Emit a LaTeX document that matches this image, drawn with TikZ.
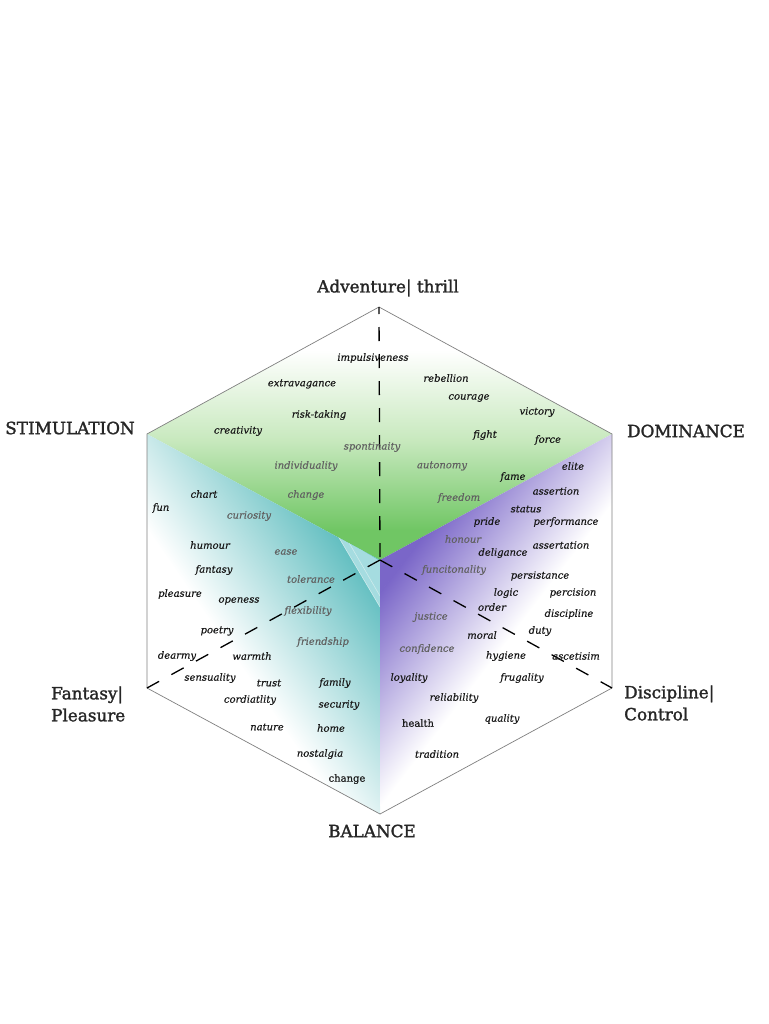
\documentclass[tikz,border=0pt]{standalone}
\usepackage{fontspec}
\setmainfont{DejaVu Serif}
\newfontfamily\labfont[FakeBold=1.6]{DejaVu Serif}
\newfontfamily\wordfont[FakeBold=0.4]{DejaVu Serif}
\begin{document}
\begin{tikzpicture}[x=1pt,y=-1pt,
  edge/.style={draw=black!50, line width=0.7pt},
  axisline/.style={draw=black, line width=1.3pt, dash pattern=on 14pt off 14pt},
  lab/.style={font=\labfont\fontsize{16.8}{22}\selectfont, text=black!85, inner sep=0pt},
  w/.style={font=\wordfont\itshape\fontsize{10}{10}\selectfont, text=black!90, inner sep=0pt},
  wg/.style={w, text=black!62},
  wu/.style={w, font=\wordfont\fontsize{10}{10}\selectfont}]
\definecolor{gr}{RGB}{112,198,100}
\definecolor{grm}{RGB}{200,233,190}
\definecolor{tl}{RGB}{92,188,190}
\definecolor{tll}{RGB}{165,220,224}
\definecolor{pp}{RGB}{122,102,200}
\useasboundingbox (0,0) rectangle (768,1024);
\fill[white] (0,0) rectangle (768,1024);

\coordinate (T) at (379,307);
\coordinate (UL) at (147,434);
\coordinate (UR) at (612,434);
\coordinate (C) at (380,560);
\coordinate (LL) at (147,688);
\coordinate (LR) at (612,688);
\coordinate (B) at (380,814);

% top face
\begin{scope}
\clip (T) -- (UL) -- (C) -- (UR) -- cycle;
\shade[top color=white, bottom color=grm] (140,350) rectangle (620,440);
\shade[top color=grm, bottom color=gr] (140,439.5) rectangle (620,530);
\fill[gr] (140,529.5) rectangle (620,565);
\end{scope}

% left face
\begin{scope}
\clip (UL) -- (C) -- (B) -- (LL) -- cycle;
\begin{scope}[transform canvas={rotate around={34.4:(380,560)}}]
\shade[left color=white, right color=tl] (205,0) rectangle (365.5,1100);
\fill[tl] (365,0) rectangle (900,1100);
\end{scope}
\fill[tll] (338,536) -- (380,561) -- (380,607) -- cycle;
\draw[white!70!tl, line width=0.6pt] (338,536) -- (380,607);
\draw[white!70!tl, line width=0.6pt] (348,541) -- (380,596);
\end{scope}

% right face
\begin{scope}
\clip (UR) -- (C) -- (B) -- (LR) -- cycle;
\begin{scope}[transform canvas={rotate around={142.6:(380,560)}}]
\shade[left color=white, right color=pp] (230,0) rectangle (360.5,1100);
\fill[pp] (360,0) rectangle (900,1100);
\end{scope}
\end{scope}

% outline
\draw[edge] (T) -- (UL) -- (LL) -- (B) -- (LR) -- (UR) -- cycle;

% axes
\draw[axisline, dash pattern=on 14pt off 13pt, dash phase=7pt] (T) -- (C);
\draw[axisline] (C) -- (LL);
\draw[axisline] (C) -- (LR);

% labels
\node[lab] (adv) at (388,288) {Adventure| thrill};
\node[lab] (stim) at (70,428) {STIMULATION};
\node[lab] (dom) at (686,431) {DOMINANCE};
\node[lab, anchor=west, align=left] (fan) at (51,704) {Fantasy|\\Pleasure};
\node[lab, anchor=west, align=left] (dis) at (624,703) {Discipline|\\Control};
\node[lab] (bal) at (372,831) {BALANCE};

% top face words
\foreach \n/\t/\x/\y in {
  impulsiveness/impulsiveness/373/358, extravagance/extravagance/302/384,
  risktaking/risk-taking/319/415, creativity/creativity/238/431,
  rebellion/rebellion/446/378, courage/courage/469/398,
  victory/victory/537/412, fight/fight/485/435, force/force/548/440,
  elite/elite/573/466, fame/fame/513/477}
  {\node[w] (\n) at (\x,\y) {\t};}
\foreach \n/\t/\x/\y in {
  spontinaity/spontinaity/372/447, individuality/individuality/306/466,
  changetop/change/306/495, autonomy/autonomy/442/466, freedom/freedom/459/498}
  {\node[wg] (\n) at (\x,\y) {\t};}

% right face words
\foreach \n/\t/\x/\y in {
  assertion/assertion/556/491, status/status/526/509, pride/pride/487/522,
  performance/performance/566/522, assertation/assertation/561/545,
  deligance/deligance/503/553, persistance/persistance/540/576,
  logic/logic/506/593, percision/percision/573/593, order/order/492/607,
  discipline/discipline/569/614, duty/duty/540/631, moral/moral/482/635,
  hygiene/hygiene/506/656, ascetisim/ascetisim/576/656,
  loyality/loyality/409/678, frugality/frugality/522/678,
  reliability/reliability/454/698, quality/quality/502/719,
  tradition/tradition/437/754}
  {\node[w] (\n) at (\x,\y) {\t};}
\foreach \n/\t/\x/\y in {
  honour/honour/463/539, funcitonality/funcitonality/454/570,
  justice/justice/431/617, confidence/confidence/427/649}
  {\node[wg] (\n) at (\x,\y) {\t};}
\node[wu] (health) at (418,723) {health};

% left face words
\foreach \n/\t/\x/\y in {
  chart/chart/204/494, fun/fun/161/508, humour/humour/210/545,
  fantasy/fantasy/214/570, pleasure/pleasure/180/594, openess/openess/239/601,
  poetry/poetry/217/631, dearmy/dearmy/177/656, warmth/warmth/252/656,
  sensuality/sensuality/210/678, trust/trust/269/683, family/family/335/683,
  cordiatlity/cordiatlity/250/700, security/security/339/705,
  nature/nature/267/727, home/home/331/728, nostalgia/nostalgia/320/754}
  {\node[w] (\n) at (\x,\y) {\t};}
\foreach \n/\t/\x/\y in {
  curiosity/curiosity/249/516, ease/ease/286/552, tolerance/tolerance/311/579,
  flexibility/flexibility/308/611, friendship/friendship/323/642}
  {\node[wg] (\n) at (\x,\y) {\t};}
\node[wu] (changebot) at (347,779) {change};
\end{tikzpicture}
\end{document}
